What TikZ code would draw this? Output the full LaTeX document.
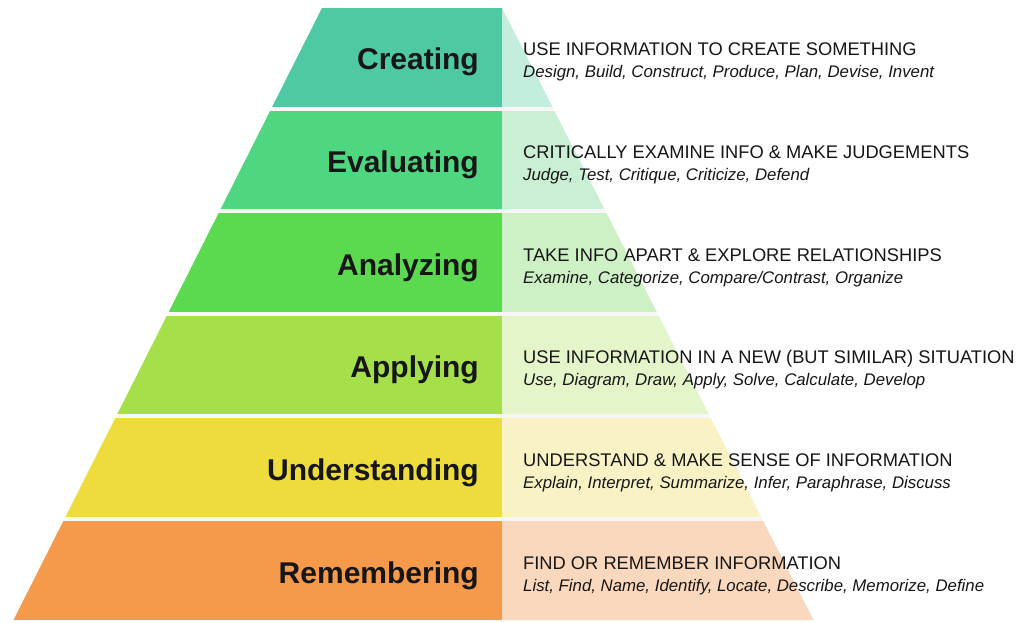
\documentclass[tikz,border=0pt]{standalone}
\usepackage{fontspec}
\setmainfont{Liberation Sans}
\begin{document}
\begin{tikzpicture}[x=1pt,y=-1pt,
  lbl/.style={anchor=base east,inner sep=0pt,text=txt,font=\fontsize{30}{36}\selectfont\bfseries},
  head/.style={anchor=base west,inner sep=0pt,text=txt,font=\fontsize{18.3}{22}\selectfont},
  verbs/.style={anchor=base west,inner sep=0pt,text=txt,font=\fontsize{16.8}{20}\selectfont\itshape}]
\definecolor{txt}{HTML}{161616}
\definecolor{dA}{HTML}{4FC9A4}\definecolor{lA}{HTML}{C3EDDC}
\definecolor{dB}{HTML}{4FD681}\definecolor{lB}{HTML}{C9F0D5}
\definecolor{dC}{HTML}{5BD94F}\definecolor{lC}{HTML}{CDF1C4}
\definecolor{dD}{HTML}{A5E04A}\definecolor{lD}{HTML}{E4F5C9}
\definecolor{dE}{HTML}{EEDC3D}\definecolor{lE}{HTML}{F8F2C5}
\definecolor{dF}{HTML}{F5994A}\definecolor{lF}{HTML}{FAD8BD}
\useasboundingbox[fill=white] (0,0) rectangle (1031,623);
\begin{scope}
\clip (322,8) -- (502,8) -- (814,621) -- (13,621) -- cycle;
\fill[black!3] (0,0) rectangle (1031,623);
\foreach \k/\d/\l in {0/dA/lA,1/dB/lB,2/dC/lC,3/dD/lD,4/dE/lE,5/dF/lF}{
  \pgfmathsetmacro{\yt}{8+102.6*\k}
  \pgfmathsetmacro{\yb}{\yt+98.6}
  \fill[\d] (0,\yt) rectangle (502,\yb);
  \fill[\l] (502,\yt) rectangle (1031,\yb);
}
\end{scope}
% labels
\node[lbl] (l1) at (479,70) {Creating};
\node[lbl] (l2) at (479,172.6) {Evaluating};
\node[lbl] (l3) at (479,275.2) {Analyzing};
\node[lbl] (l4) at (479,377.8) {Applying};
\node[lbl] (l5) at (479,480.4) {Understanding};
\node[lbl] (l6) at (479,583) {Remembering};
% headings
\node[head] (h1) at (523,56) {USE INFORMATION TO CREATE SOMETHING};
\node[verbs] (v1) at (523,78) {Design, Build, Construct, Produce, Plan, Devise, Invent};
\node[head] (h2) at (523,158.6) {CRITICALLY EXAMINE INFO \& MAKE JUDGEMENTS};
\node[verbs] (v2) at (523,180.6) {Judge, Test, Critique, Criticize, Defend};
\node[head] (h3) at (523,261.2) {TAKE INFO APART \& EXPLORE RELATIONSHIPS};
\node[verbs] (v3) at (523,283.2) {Examine, Categorize, Compare/Contrast, Organize};
\node[head] (h4) at (523,363.8) {USE INFORMATION IN A NEW (BUT SIMILAR) SITUATION};
\node[verbs] (v4) at (523,385.8) {Use, Diagram, Draw, Apply, Solve, Calculate, Develop};
\node[head] (h5) at (523,466.4) {UNDERSTAND \& MAKE SENSE OF INFORMATION};
\node[verbs] (v5) at (523,488.4) {Explain, Interpret, Summarize, Infer, Paraphrase, Discuss};
\node[head] (h6) at (523,569) {FIND OR REMEMBER INFORMATION};
\node[verbs] (v6) at (523,591) {List, Find, Name, Identify, Locate, Describe, Memorize, Define};
\end{tikzpicture}
\end{document}
